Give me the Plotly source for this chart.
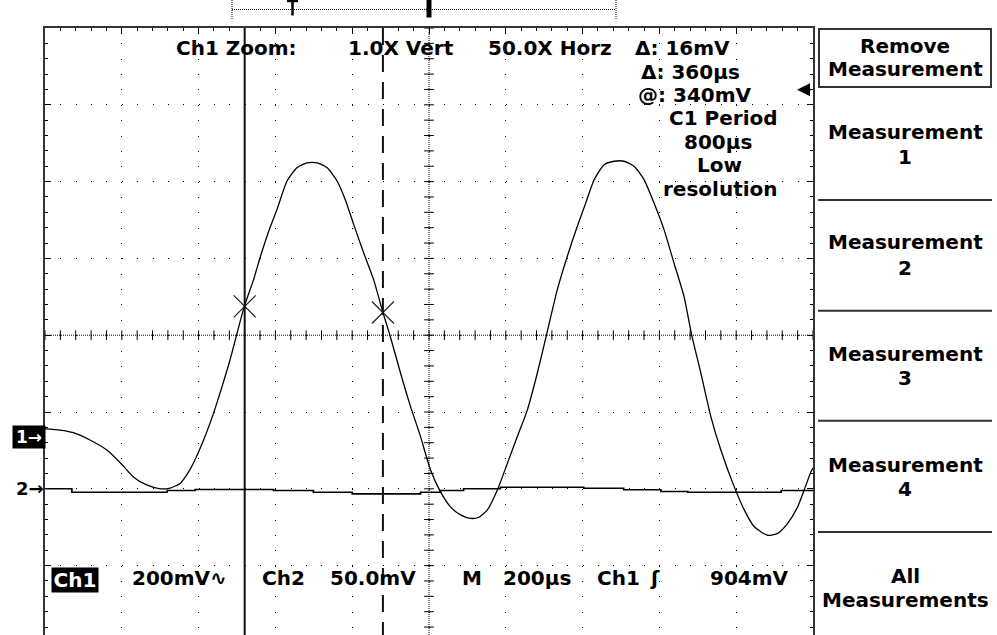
import numpy as np
import plotly.graph_objects as go

CH1_TIME_US = [0, 39, 74, 117, 161, 196, 230, 265, 300, 326, 352, 369, 387, 413, 439, 461, 482, 499, 519,
               543, 561, 587, 604, 630, 656, 682, 709, 735, 761, 782, 804, 830, 856, 880, 898, 926, 952,
               978, 1004, 1030, 1056, 1082, 1108, 1130, 1152, 1178, 1204, 1230, 1256, 1282, 1306, 1334,
               1360, 1386, 1408, 1430, 1456, 1482, 1508, 1534, 1560, 1586, 1612, 1638, 1664, 1684, 1708,
               1734, 1760, 1795, 1821, 1847, 1882, 1908, 1934, 1960, 1977, 1995, 2000]
CH1_MV = [21, 18, 11, -8, -34, -67, -104, -125, -135, -133, -121, -99, -67, -8, 62, 131, 201, 266, 340,
          409, 470, 548, 592, 666, 701, 714, 714, 701, 666, 618, 553, 479, 409, 324, 266, 166, 79,
          1, -86, -143, -182, -203, -212, -209, -190, -138, -69, 1, 70, 166, 266, 383,
          470, 548, 609, 670, 709, 718, 718, 705, 670, 609, 540, 453, 366, 266, 166,
          53, -34, -130, -190, -234, -256, -251, -225, -182, -138, -90, -81]

CH2_TIME_US = [0, 70, 318, 391, 595, 699, 800, 978, 1030, 1090, 1186, 1403, 1507, 1604, 1674, 1917, 2000]
CH2_MV = [0, -2.2, -1.1, -0.5, -1.1, -2.2, -3.3, -2.2, -1.1, 0, 1.0, 0.4, -0.6, -1.8, -2.2, -1.1, -1.1]

CURSOR_TIME_US = [520, 880]          # delta 360 us
CURSOR_CH1_MV = [340, 324]           # delta 16 mV
TRIGGER_MV = 904

CH1_SCALE_MV = 200
CH2_SCALE_MV = 50
TIME_SCALE_US = 200
CH1_POS_DIV = -1.325
CH2_POS_DIV = -2.0

READOUTS = ["Ch1 Zoom:", "1.0X Vert", "50.0X Horz", "Δ: 16mV", "Δ: 360µs", "@: 340mV",
            "C1 Period", "800µs", "Low", "resolution"]
STATUS = ["200mV∿", "Ch2", "50.0mV", "M", "200µs", "Ch1", "ʃ", "904mV"]
MENU = [("Remove", "Measurement"), ("Measurement", "1"), ("Measurement", "2"),
        ("Measurement", "3"), ("Measurement", "4"), ("All", "Measurements")]

# ---------------- geometry ----------------
W, H = 997, 635
L, R, T, B = 45, 184, 28, 0
PW, PH = W - L - R, H - T - B
DIVS_X = 10
DIV_PX = PW / DIVS_X
Y_TOP = 4.0
Y_BOT = Y_TOP - PH / DIV_PX
FONT = "DejaVu Sans"
INK = "black"
FS = 20


def px(x):
    return (x - L) / PW


def py(y):
    return (H - B - y) / PH


x_range = [0, DIVS_X * TIME_SCALE_US]
ch1_range = [(Y_BOT - CH1_POS_DIV) * CH1_SCALE_MV, (Y_TOP - CH1_POS_DIV) * CH1_SCALE_MV]
ch2_range = [(Y_BOT - CH2_POS_DIV) * CH2_SCALE_MV, (Y_TOP - CH2_POS_DIV) * CH2_SCALE_MV]
grid_dash = f"1px,{DIV_PX / 5 - 1:.2f}px"

fig = go.Figure()

# centre graticule tick marks
fig.add_trace(go.Scatter(
    x=np.arange(0, x_range[1] + 1, TIME_SCALE_US / 5), y=np.zeros(51), mode="markers",
    marker=dict(symbol="line-ns", size=7, line=dict(width=1, color=INK)),
    xaxis="x", yaxis="y", hoverinfo="skip", showlegend=False))
ytk = np.arange(-19, 21) * 0.2
fig.add_trace(go.Scatter(
    x=np.full(len(ytk), x_range[1] / 2), y=ytk, mode="markers",
    marker=dict(symbol="line-ew", size=7, line=dict(width=1, color=INK)),
    xaxis="x", yaxis="y", hoverinfo="skip", showlegend=False))

# channel 2
fig.add_trace(go.Scatter(x=CH2_TIME_US, y=CH2_MV, mode="lines", line=dict(color=INK, width=1.6, shape="hv"),
                         xaxis="x", yaxis="y3", hoverinfo="skip", showlegend=False))
# channel 1
fig.add_trace(go.Scatter(x=CH1_TIME_US, y=CH1_MV, mode="lines",
                         line=dict(color=INK, width=1.3, shape="spline", smoothing=0.6),
                         xaxis="x", yaxis="y2", hoverinfo="skip", showlegend=False))
# cursor crossings
fig.add_trace(go.Scatter(x=CURSOR_TIME_US, y=CURSOR_CH1_MV, mode="markers",
                         marker=dict(symbol="x-thin", size=22, line=dict(width=1.2, color="#222")),
                         xaxis="x", yaxis="y2", hoverinfo="skip", showlegend=False))

shapes = []
# centre lines (dense dots)
shapes.append(dict(type="line", xref="x", yref="paper", x0=x_range[1] / 2, x1=x_range[1] / 2, y0=1, y1=0,
                   line=dict(color=INK, width=1, dash="1px,1px"), layer="below"))
shapes.append(dict(type="line", xref="paper", yref="y", x0=0, x1=1, y0=0, y1=0,
                   line=dict(color=INK, width=1, dash="1px,1px"), layer="below"))
# cursors
shapes.append(dict(type="line", xref="x", yref="paper", x0=CURSOR_TIME_US[0], x1=CURSOR_TIME_US[0], y0=1, y1=0,
                   line=dict(color="#111", width=2)))
shapes.append(dict(type="line", xref="x", yref="paper", x0=CURSOR_TIME_US[1], x1=CURSOR_TIME_US[1], y0=1, y1=0,
                   line=dict(color="#111", width=2, dash="17px,10px")))


def pline(x0, y0, x1, y1, w=1, dash=None, color=INK):
    ln = dict(color=color, width=w)
    if dash:
        ln["dash"] = dash
    return dict(type="line", xref="paper", yref="paper", x0=px(x0), y0=py(y0), x1=px(x1), y1=py(y1), line=ln)


# record view at the top
shapes.append(pline(232, 9.5, 616, 9.5, 1, "1px,1px"))
shapes.append(pline(232, 0, 232, 19, 1, "1px,1px"))
shapes.append(pline(616, 0, 616, 19, 1, "1px,1px"))
shapes.append(pline(287, 1, 298, 1, 2.5))
shapes.append(pline(292.5, 0, 292.5, 15.5, 2.5))
shapes.append(dict(type="rect", xref="paper", yref="paper", x0=px(426.5), x1=px(431.5), y0=py(0), y1=py(17.5),
                   fillcolor=INK, line=dict(width=0)))

# menu
shapes.append(dict(type="rect", xref="paper", yref="paper", x0=px(819), x1=px(991), y0=py(29), y1=py(87),
                   line=dict(color="#333", width=2)))
for sy in [200, 310.7, 420.7, 532]:
    shapes.append(pline(818, sy, 992, sy, 2, None, "#333"))

ann = []


def text(t, x, y, size=FS, anchor="center", color=INK, **kw):
    d = dict(text="<b>" + t + "</b>", xref="paper", yref="paper", x=px(x), y=py(y), xanchor=anchor,
             yanchor="middle", showarrow=False, font=dict(family=FONT, size=size, color=color))
    d.update(kw)
    ann.append(d)


readout_pos = [(236, 47.5), (401, 47.5), (549.5, 47.5), (682.5, 47.5), (690, 71.5), (695, 95),
               (723, 117.5), (718, 141.5), (719, 165), (720, 188.5)]
for t, (x, y) in zip(READOUTS, readout_pos):
    text(t, x, y)

status_pos = [179, 283, 373, 472, 537, 618, 655, 749]
for t, x in zip(STATUS, status_pos):
    text(t, x, 578)
text("Ch1", 75, 579.5, color="white", bgcolor=INK, width=46, height=24, borderpad=0)

menu_pos = [(45.8, 68.8), (131.7, 157.3), (242.5, 267.5), (354, 377.5), (464.7, 489), (575.8, 599.5)]
for (a, b), (y1, y2) in zip(MENU, menu_pos):
    text(a, 905, y1)
    text(b, 905, y2)

# channel ground markers and trigger level
ann.append(dict(text="<b>1→</b>", xref="paper", yref="y2", x=px(29), y=0, xanchor="center", yanchor="middle",
                showarrow=False, font=dict(family=FONT, size=17, color="white"), bgcolor=INK,
                width=32, height=22, borderpad=0))
ann.append(dict(text="<b>2→</b>", xref="paper", yref="y3", x=px(30), y=0, xanchor="center", yanchor="middle",
                showarrow=False, font=dict(family=FONT, size=18, color=INK)))
ann.append(dict(text="", xref="paper", yref="y2", x=px(797), y=TRIGGER_MV, ax=15, ay=0,
                showarrow=True, arrowhead=2, arrowsize=1.3, arrowwidth=2, arrowcolor=INK))

axis_common = dict(showticklabels=False, zeroline=False, showgrid=True, gridcolor=INK, gridwidth=1,
                   griddash=grid_dash, showline=True, linecolor="#333", linewidth=2,
                   ticks="inside", ticklen=6, tickwidth=1, tickcolor=INK, fixedrange=True)

fig.update_layout(
    width=W, height=H, margin=dict(l=L, r=R, t=T, b=B, autoexpand=False),
    paper_bgcolor="white", plot_bgcolor="white", showlegend=False, hovermode=False,
    xaxis=dict(range=x_range, tick0=0, dtick=TIME_SCALE_US, side="top",
               minor=dict(dtick=TIME_SCALE_US / 5, ticks="inside", ticklen=3, tickcolor=INK, showgrid=False),
               **axis_common),
    yaxis=dict(range=[Y_BOT, Y_TOP], tick0=0, dtick=1, mirror="allticks",
               minor=dict(dtick=0.2, ticks="inside", ticklen=3, tickcolor=INK, showgrid=False),
               **axis_common),
    yaxis2=dict(range=ch1_range, overlaying="y", visible=False, fixedrange=True),
    yaxis3=dict(range=ch2_range, overlaying="y", visible=False, fixedrange=True),
    shapes=shapes, annotations=ann,
)

fig.write_html("out.html", config=dict(displayModeBar=False, staticPlot=True),
               post_script="document.body.style.margin='0px';document.body.style.overflow='hidden';")
